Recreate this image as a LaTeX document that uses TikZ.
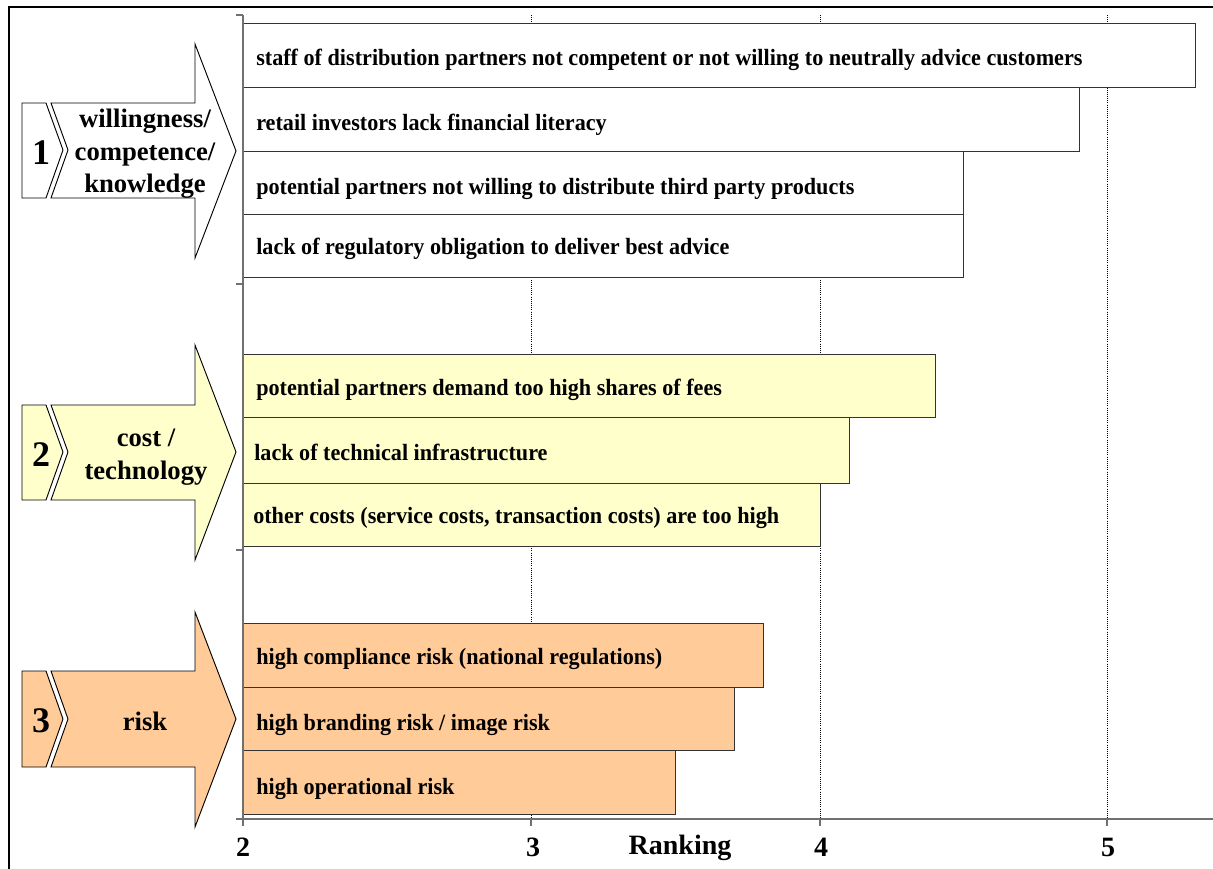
\documentclass[tikz,border=0pt]{standalone}
\usepackage{fontspec}
\setmainfont{Liberation Serif}
\newfontfamily\barfont[FakeStretch=0.95]{Liberation Serif}
\usepackage{xcolor}
\definecolor{costyellow}{HTML}{FFFFCC}
\definecolor{riskpeach}{HTML}{FFCC99}
\definecolor{axisgray}{HTML}{707070}

\tikzset{
  bar/.style={draw=black!80, line width=0.7pt},
  bartext/.style={anchor=base west, inner sep=0pt, font=\barfont\bfseries\fontsize{17.5}{20}\selectfont},
  grouptext/.style={align=center, inner sep=0pt, font=\bfseries\fontsize{20}{24.5}\selectfont},
  groupnum/.style={inner sep=0pt, font=\bfseries\fontsize{27}{30}\selectfont},
  axistext/.style={inner sep=0pt, font=\bfseries\fontsize{21}{24}\selectfont},
  chevron/.style={draw=black, line width=0.7pt, line join=miter}
}

\begin{document}
\begin{tikzpicture}[x=0.75pt, y=-0.75pt]
    \useasboundingbox (0,0) rectangle (1213,868);
    % outer frame
    \draw[line width=1.5pt] (9,7) rectangle (1240,890);

    % dotted grid lines
    \foreach \gx in {531,820,1107}
        \draw[densely dotted, line width=0.6pt] (\gx,15) -- (\gx,819);

    % -------------------------
    % Group 1 (willingness)
    % -------------------------
    \draw[chevron, fill=white] (22,103) -- (46,103) -- (63,150) -- (46,198) -- (22,198) -- cycle;
    \draw[chevron, fill=white] (51,103) -- (195,103) -- (195,44) -- (236,151) -- (195,258)
        -- (195,198) -- (51,198) -- (68,150) -- cycle;
    \node[groupnum] (n1) at (41,153) {1};
    \node[grouptext] (g1) at (145,154) {willingness/\\competence/\\knowledge};

    \draw[bar, fill=white] (243,23) rectangle (1195,87);
    \draw[bar, fill=white] (243,87) rectangle (1079,151);
    \draw[bar, fill=white] (243,151) rectangle (963,214);
    \draw[bar, fill=white] (243,214) rectangle (963,277);
    \node[bartext] (b11) at (256,65) {staff of distribution partners not competent or not willing  to neutrally advice customers};
    \node[bartext] (b12) at (256,130) {retail investors lack financial literacy};
    \node[bartext] (b13) at (256,194) {potential  partners not willing  to distribute third party products};
    \node[bartext] (b14) at (256,254) {lack  of regulatory obligation to  deliver  best  advice};

    % -------------------------
    % Group 2 (cost)
    % -------------------------
    \draw[chevron, fill=costyellow] (22,405) -- (46,405) -- (63,452) -- (46,500) -- (22,500) -- cycle;
    \draw[chevron, fill=costyellow] (51,405) -- (195,405) -- (195,345) -- (236,452) -- (195,560)
        -- (195,500) -- (51,500) -- (68,452) -- cycle;
    \node[groupnum] (n2) at (41,455) {2};
    \node[grouptext] (g2) at (146,457) {cost /\\technology};

    \draw[bar, fill=costyellow] (243,354) rectangle (935,417);
    \draw[bar, fill=costyellow] (243,417) rectangle (849,483);
    \draw[bar, fill=costyellow] (243,483) rectangle (820,546);
    \node[bartext] (b21) at (256,395) {potential  partners demand too high shares of fees};
    \node[bartext] (b22) at (254,460) {lack of technical infrastructure};
    \node[bartext] (b23) at (253,523) {other costs  (service costs,  transaction costs) are too high};

    % -------------------------
    % Group 3 (risk)
    % -------------------------
    \draw[chevron, fill=riskpeach] (22,671) -- (46,671) -- (63,719) -- (46,767) -- (22,767) -- cycle;
    \draw[chevron, fill=riskpeach] (51,671) -- (195,671) -- (195,612) -- (236,719) -- (195,827)
        -- (195,767) -- (51,767) -- (68,719) -- cycle;
    \node[groupnum] (n3) at (41,721) {3};
    \node[grouptext] (g3) at (145,721) {risk};

    \draw[bar, fill=riskpeach] (243,623) rectangle (763,687);
    \draw[bar, fill=riskpeach] (243,687) rectangle (734,750);
    \draw[bar, fill=riskpeach] (243,750) rectangle (675,814);
    \node[bartext] (b31) at (256,664) {high compliance risk  (national regulations)};
    \node[bartext] (b32) at (256,730) {high branding risk / image risk};
    \node[bartext] (b33) at (256,794) {high operational risk};

    % -------------------------
    % Axes
    % -------------------------
    \draw[axisgray, line width=1.2pt] (243,15) -- (243,819) -- (1213,819);
    \foreach \ty in {15,284,550,819}
        \draw[axisgray, line width=0.8pt] (236,\ty) -- (243,\ty);
    \foreach \tx in {243,531,820,1107}
        \draw[axisgray, line width=0.8pt] (\tx,819) -- (\tx,826);
    \node[axistext] (x2) at (243,847) {2};
    \node[axistext] (x3) at (533,847) {3};
    \node[axistext] (x4) at (821,847) {4};
    \node[axistext] (x5) at (1108,847) {5};
    \node[axistext] (xl) at (680,848) {Ranking};
\end{tikzpicture}
\end{document}
